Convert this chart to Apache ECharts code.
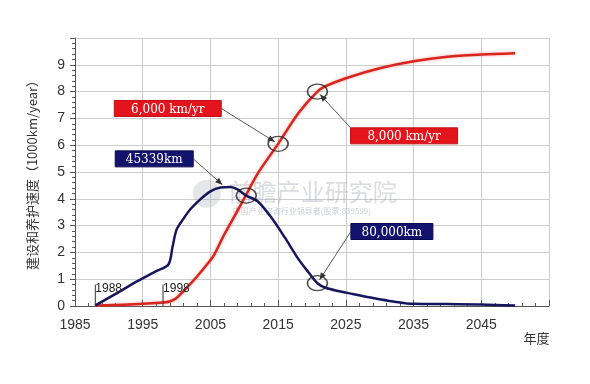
<!DOCTYPE html>
<html><head><meta charset="utf-8">
<script src="https://cdn.jsdelivr.net/npm/echarts@6/dist/echarts.min.js"></script>
<style>html,body{margin:0;padding:0;background:#fff}#c{width:590px;height:384px}</style>
</head><body><div id="c"></div>
<script>
// ---- data ----
const xTicks = [1985, 1995, 2005, 2015, 2025, 2035, 2045];
const yTicks = [0,1,2,3,4,5,6,7,8,9];
const blueYears = [1988,1991,1994,1997,1998.8,1999.4,2000,2001,2002,2003.5,2005,2006.5,2008,2009,2010.3,2012,2014,2016,2018,2019.5,2020.8,2022,2024,2026,2029,2032,2035,2040,2045,2050];
const blueVals  = [0.02,0.45,0.9,1.3,1.55,2.2,2.85,3.25,3.6,3.98,4.28,4.42,4.44,4.35,4.12,3.9,3.3,2.55,1.75,1.25,0.85,0.68,0.55,0.45,0.3,0.17,0.08,0.07,0.06,0.02];
const redYears  = [1988,1993,1998,1999,2000,2001,2002.5,2004,2005.4,2007,2008,2010,2012,2015,2018,2020.8,2022,2025,2030,2035,2040,2045,2050];
const redVals   = [0.02,0.06,0.13,0.17,0.3,0.55,0.95,1.4,1.85,2.65,3.1,4.02,4.95,6.05,7.2,8.0,8.2,8.5,8.87,9.13,9.3,9.38,9.43];
const circleYears = [2010.3, 2015, 2020.8, 2020.8];
const circleVals  = [4.12, 6.05, 8.0, 0.85];
const annoTexts   = ['6,000 km/yr', '45339km', '8,000 km/yr', '80,000km'];
const annoBoxYear = [1998.7, 1996.7, 2033.6, 2031.8];
const annoBoxVal  = [7.37, 5.49, 6.35, 2.78];
const annoTgtYear = [2015, 2007.2, 2020.8, 2020.8];
const annoTgtVal  = [6.05, 4.43, 8.0, 0.85];
const markerYears = [1988, 1998];
const markerLabels = ['1988', '1998'];

const chart = echarts.init(document.getElementById('c'), null, {renderer:'canvas'});
const zip = (a,b)=>a.map((v,i)=>[v,b[i]]);
const axisFont = {fontFamily:'Liberation Sans, Arial', fontSize:14, color:'#333'};

chart.setOption({
  animation:false,
  grid:{left:75, right:41, top:38, bottom:78},
  xAxis:{type:'value', min:1985, max:2055, interval:10,
    axisLine:{lineStyle:{color:'#555'}},
    axisTick:{inside:true, length:6, lineStyle:{color:'#555'}},
    minorTick:{show:true, splitNumber:5, length:3, lineStyle:{color:'#555'}},
    splitLine:{show:true, lineStyle:{color:'#ccc', width:1}},
    axisLabel:Object.assign({margin:12, formatter:v=>xTicks.includes(v)?String(v):''}, axisFont)
  },
  yAxis:{type:'value', min:0, max:10, interval:1,
    name:'建设和养护速度（1000km/year）', nameLocation:'middle', nameGap:36, nameRotate:90,
    nameTextStyle:{fontFamily:'Noto Sans CJK SC', fontSize:13, color:'#333'},
    axisLine:{show:true, lineStyle:{color:'#555'}},
    axisTick:{show:true, inside:false, length:5, lineStyle:{color:'#555'}},
    minorTick:{show:true, splitNumber:5, length:3, lineStyle:{color:'#555'}},
    splitLine:{show:true, lineStyle:{color:'#ccc', width:1}},
    axisLabel:Object.assign({margin:10, formatter:v=>yTicks.includes(v)?String(v):''}, axisFont)
  },
  series:[
    {type:'line', data:zip(redYears, redVals), smooth:0.3, symbol:'none',
      lineStyle:{color:'#d8261e', width:2.5, shadowColor:'rgba(240,80,70,0.5)', shadowBlur:3}, z:3},
    {type:'line', data:zip(blueYears, blueVals), smooth:0.3, symbol:'none',
      lineStyle:{color:'#16165e', width:2.5}, z:4},
    {type:'scatter', data:zip(circleYears, circleVals), symbol:'circle', symbolSize:[20,15],
      itemStyle:{color:'rgba(0,0,0,0)', borderColor:'#222', borderWidth:1.5}, z:6, silent:true}
  ]
});

const g = [];
// watermark
const wm = chart.convertToPixel('grid', [2008, 4.3]);
g.push({type:'circle', shape:{cx:wm[0]-24, cy:wm[1]+3, r:14}, style:{fill:'rgba(160,165,175,0.28)'}, z:1});
g.push({type:'text', x:wm[0]-2, y:wm[1]-11, style:{text:'前瞻产业研究院', font:'24px "Noto Sans CJK SC"', fill:'rgba(150,155,170,0.35)'}, z:1});
g.push({type:'text', x:wm[0]+2, y:wm[1]+16, style:{text:'中国产业咨询行业领导者(股票:839599)', font:'8px "Noto Sans CJK SC"', fill:'rgba(150,155,170,0.5)'}, z:1});

// year markers
markerYears.forEach((yr,i)=>{
  const p0 = chart.convertToPixel('grid', [yr, 0]);
  const p1 = chart.convertToPixel('grid', [yr, 0.8]);
  g.push({type:'line', shape:{x1:p0[0], y1:p0[1], x2:p1[0], y2:p1[1]}, style:{stroke:'#333', lineWidth:1}, z:5});
  g.push({type:'text', x:p1[0], y:p1[1]-2, style:{text:markerLabels[i], font:'12px "Liberation Sans"', fill:'#222'}, z:5});
});

// annotations
annoTexts.forEach((t,i)=>{
  const c = chart.convertToPixel('grid', [annoBoxYear[i], annoBoxVal[i]]);
  const tg = chart.convertToPixel('grid', [annoTgtYear[i], annoTgtVal[i]]);
  const isRed = i===0 || i===2;
  const w = isRed ? 107 : (i===1 ? 78 : 82), h = 16;
  const x0 = c[0]-w/2, y0 = c[1]-h/2;
  let ax, ay;
  if (tg[0] > x0 + w) { ax = x0 + w; ay = c[1]; }
  else { ax = x0; ay = c[1]; }
  if (i===2) { ax = x0; ay = y0; }
  const dx = tg[0]-ax, dy = tg[1]-ay, L = Math.hypot(dx,dy);
  const ux = dx/L, uy = dy/L;
  const ex = tg[0]-ux*4, ey = tg[1]-uy*4;
  g.push({type:'line', shape:{x1:ax, y1:ay, x2:ex, y2:ey}, style:{stroke:'#444', lineWidth:0.9}, z:7});
  const hl = 7, hw = 3;
  g.push({type:'polygon', shape:{points:[[ex,ey],[ex-ux*hl-uy*hw, ey-uy*hl+ux*hw],[ex-ux*hl+uy*hw, ey-uy*hl-ux*hw]]}, style:{fill:'#333'}, z:7});
  g.push({type:'rect', shape:{x:x0, y:y0, width:w, height:h}, style:{fill:isRed?'#e3141c':'#13136e', stroke:isRed?'#c01018':'#0a0a50', lineWidth:1}, z:8});
  g.push({type:'text', x:c[0], y:c[1]+1, style:{text:t, font:'12px "DejaVu Serif"', fill:'#fff', align:'center', verticalAlign:'middle'}, z:9});
});

// x axis name
const xn = chart.convertToPixel('grid', [2053, 0]);
g.push({type:'text', x:xn[0]-12, y:xn[1]+26, style:{text:'年度', font:'13px "Noto Sans CJK SC"', fill:'#333'}, z:5});

chart.setOption({graphic:g});
</script></body></html>
